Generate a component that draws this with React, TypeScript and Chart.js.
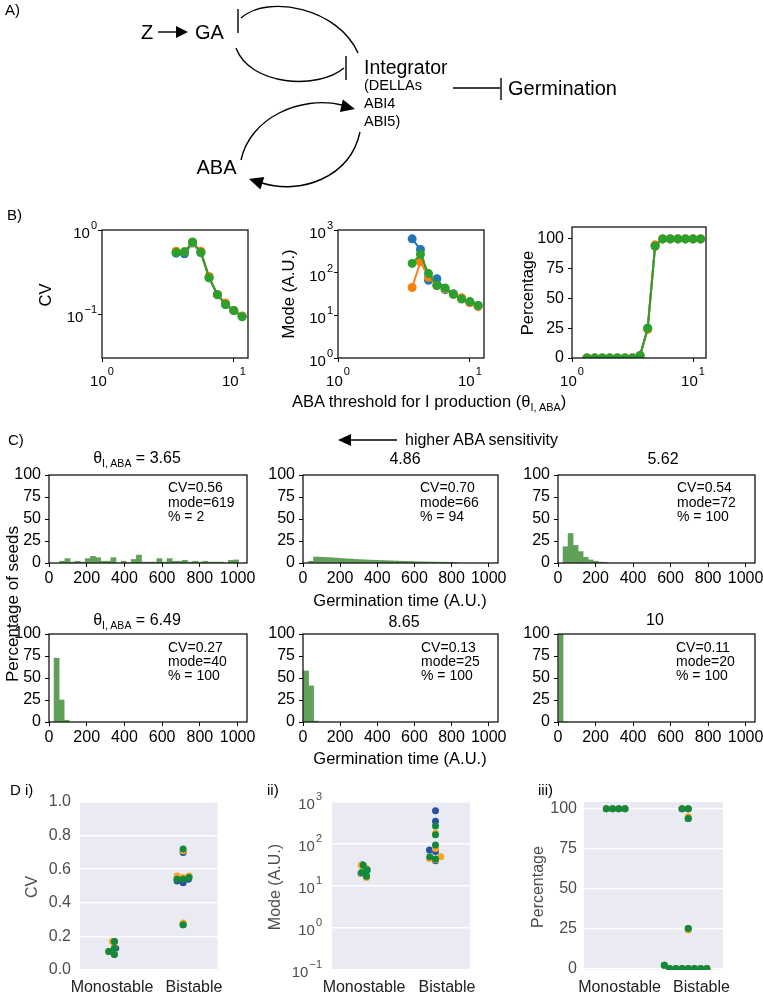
import React, { useEffect, useRef } from "react";
import { Chart, registerables } from "chart.js";

Chart.register(...registerables);

const W = 763;
const H = 993;
const FONT = "'Liberation Sans', Arial, Helvetica, sans-serif";

// ---------------- data ----------------
// Panel B: thresholds (theta_I,ABA) and statistics for the three series
const thetaCvMode = [3.65, 4.22, 4.86, 5.62, 6.49, 7.5, 8.65, 10.0, 11.55];
const cvBlue = [0.53, 0.52, 0.7, 0.54, 0.27, 0.17, 0.13, 0.11, 0.094];
const cvOrange = [0.56, 0.55, 0.71, 0.56, 0.28, 0.17, 0.135, 0.11, 0.095];
const cvGreen = [0.54, 0.55, 0.72, 0.54, 0.27, 0.17, 0.13, 0.11, 0.093];
const modeBlue = [620, 350, 66, 72, 40, 32, 25, 20, 17];
const modeOrange = [45, 180, 78, 50, 42, 31, 26, 20, 16];
const modeGreen = [165, 270, 95, 50, 44, 31, 24, 21, 17];
const thetaPct = [1.33, 1.54, 1.78, 2.05, 2.37, 2.74, 3.16, 3.65, 4.22, 4.86, 5.62, 6.49, 7.5, 8.65, 10.0, 11.55];
const pctBlue = [0, 0, 0, 0, 0, 0, 0, 2, 25, 94, 100, 100, 100, 100, 100, 100];
const pctOrange = [0, 0, 0, 0, 0, 0, 0, 2, 24, 95, 100, 100, 100, 100, 100, 100];
const pctGreen = [0, 0, 0, 0, 0, 0, 0, 2, 25, 94, 100, 100, 100, 100, 100, 100];
const bLogXTicks = [1, 10];
const cvTicks = [0.1, 1];
const modeTicks = [1, 10, 100, 1000];
const pctTicks = [0, 25, 50, 75, 100];

// Panel C: histograms (bin start, bin width, heights in % of seeds)
const histXTicks = [0, 200, 400, 600, 800, 1000];
const histYTicks = [0, 25, 50, 75, 100];
const h1Start = 57, h1Width = 27.1;
const h1 = [2, 5, 1, 2, 1, 5, 7.5, 6, 2, 2, 6, 0, 2, 0, 4, 9, 1, 1, 1, 5, 1, 5, 2, 2, 3, 1, 2, 1, 2, 1, 1, 1, 0, 3, 3.5];
const h2Start = 30, h2Width = 26.7;
const h2 = [2, 6.8, 6.6, 6.3, 6.0, 5.6, 5.2, 4.8, 4.5, 4.1, 3.8, 3.5, 3.3, 3.1, 2.9, 2.7, 2.5, 2.3, 2.1, 1.9, 1.7, 1.5, 1.4, 1.2, 1.1, 1.0, 0.9, 0.8, 0.7, 0.6];
const h3Start = 27, h3Width = 26.7;
const h3 = [18.5, 33.5, 20, 13, 6.5, 3.5, 2, 1, 0.5];
const h4Start = 27, h4Width = 26.7;
const h4 = [72.5, 25, 2];
const h5Start = 3, h5Width = 27;
const h5 = [58, 41, 1];
const h6Start = 5, h6Width = 22;
const h6 = [99.5, 0.5];
const histTitles = ["3.65", "4.86", "5.62", "6.49", "8.65", "10"];
const histCV = ["0.56", "0.70", "0.54", "0.27", "0.13", "0.11"];
const histMode = ["619", "66", "72", "40", "25", "20"];
const histPct = ["2", "94", "100", "100", "100", "100"];

// Panel D: categories (monostable = last four thresholds)
const dCategories = ["Monostable", "Bistable"];
const monoFromCv = 5;
const monoFromPct = 12;
const d1Ticks = [0, 0.2, 0.4, 0.6, 0.8, 1.0];
const d2Ticks = [0.1, 1, 10, 100, 1000];
const d3Ticks = [0, 25, 50, 75, 100];

// ---------------- colours ----------------
const BLUE = "#1f77b4";
const ORANGE = "#ff7f0e";
const GREEN = "#2ca02c";
const D_BLUE = "#2a50a6";
const D_ORANGE = "#f5a623";
const D_GREEN = "#13893b";
const HIST = "rgb(96,160,88)";
const D_BG = "#EAEAF2";
const D_TEXT = "#4d4d4d";

// ---------------- helpers ----------------
function axW(L: number) {
  return Math.min(55, L);
}
function axH(B: number) {
  return Math.min(32, H - B);
}
function pad(L: number, T: number, R: number, B: number, xShown = true) {
  return { left: L - axW(L), top: T, right: W - R, bottom: H - B - (xShown ? axH(B) : 0) };
}
function zeroPad(s: any) {
  s.paddingLeft = 0;
  s.paddingRight = 0;
  s.paddingTop = 0;
  s.paddingBottom = 0;
}
function fitW(w: number) {
  return (s: any) => {
    s.width = w;
    zeroPad(s);
  };
}
function fitH(h: number) {
  return (s: any) => {
    s.height = h;
    zeroPad(s);
  };
}
function fixTicks(vals: number[]) {
  return (s: any) => {
    s.ticks = vals.map((v) => ({ value: v }));
  };
}
function tickGrid() {
  return { display: true, drawOnChartArea: false, drawTicks: true, tickLength: 4, color: "#000", lineWidth: 1, offset: false };
}
const tickFont = { family: FONT, size: 16 };
const plain = (v: any) => String(v);

const boxPlugin = {
  id: "box",
  beforeDraw(chart: any, _a: any, o: any) {
    if (o && o.bg) {
      const a = chart.chartArea;
      const ctx = chart.ctx;
      ctx.save();
      ctx.fillStyle = o.bg;
      ctx.fillRect(a.left, a.top, a.right - a.left, a.bottom - a.top);
      ctx.restore();
    }
  },
  afterDraw(chart: any, _a: any, o: any) {
    if (o && o.stroke) {
      const a = chart.chartArea;
      const ctx = chart.ctx;
      ctx.save();
      ctx.strokeStyle = "#000";
      ctx.lineWidth = 1.2;
      ctx.strokeRect(a.left, a.top, a.right - a.left, a.bottom - a.top);
      ctx.restore();
    }
  },
};

const logLabelsPlugin = {
  id: "logLabels",
  afterDraw(chart: any, _a: any, o: any) {
    if (!o || !o.axes) return;
    const ctx = chart.ctx;
    const ca = chart.chartArea;
    ctx.save();
    ctx.fillStyle = o.color || "#000";
    ctx.textAlign = "left";
    ctx.textBaseline = "alphabetic";
    for (const ax of o.axes) {
      const sc = chart.scales[ax.id];
      for (const t of sc.ticks) {
        const e = Math.round(Math.log10(t.value));
        const sup = e < 0 ? "\u2212" + String(-e) : String(e);
        ctx.font = `${o.size}px ${FONT}`;
        const wb = ctx.measureText("10").width;
        ctx.font = `${o.supSize}px ${FONT}`;
        const ws = ctx.measureText(sup).width;
        const p = sc.getPixelForValue(t.value);
        let x0: number, yb: number, ys: number;
        if (ax.pos === "bottom") {
          x0 = p - (wb + ws + 1) / 2;
          yb = ca.bottom + ax.base;
          ys = ca.bottom + ax.sup;
        } else {
          x0 = ca.left - ax.gap - wb - ws - 1;
          yb = p + ax.base;
          ys = p + ax.sup;
        }
        ctx.font = `${o.size}px ${FONT}`;
        ctx.fillText("10", x0, yb);
        ctx.font = `${o.supSize}px ${FONT}`;
        ctx.fillText(sup, x0 + wb + 1, ys);
      }
    }
    ctx.restore();
  },
};

// seaborn-like beeswarm (per dataset, per category), pixel space
function beeswarm(ys: number[], d: number): number[] {
  const order = ys.map((_, i) => i).sort((a, b) => ys[b] - ys[a]);
  const placed: { x: number; y: number }[] = [];
  const out = new Array(ys.length).fill(0);
  for (const i of order) {
    const y = ys[i];
    const nb = placed.filter((p) => Math.abs(p.y - y) < d);
    const cands: number[] = [0];
    let leftFirst = true;
    for (const p of nb) {
      const dx = Math.sqrt(Math.max(d * d - (p.y - y) * (p.y - y), 0));
      if (leftFirst) cands.push(p.x - dx, p.x + dx);
      else cands.push(p.x + dx, p.x - dx);
      leftFirst = !leftFirst;
    }
    const idx = cands.map((_, k) => k).sort((a, b) => Math.abs(cands[a]) - Math.abs(cands[b]) || a - b);
    let chosen = 0;
    for (const k of idx) {
      const c = cands[k];
      if (nb.every((p) => (p.x - c) * (p.x - c) + (p.y - y) * (p.y - y) >= d * d - 0.01)) {
        chosen = c;
        break;
      }
    }
    out[i] = chosen;
    placed.push({ x: chosen, y });
  }
  return out;
}

const swarmPlugin = {
  id: "swarm",
  beforeDatasetsDraw(chart: any, _a: any, o: any) {
    const d = (o && o.d) || 6;
    const xs = chart.scales.x;
    chart.data.datasets.forEach((ds: any, di: number) => {
      const meta = chart.getDatasetMeta(di);
      const groups = new Map<number, any[]>();
      meta.data.forEach((el: any, i: number) => {
        const raw = ds.data[i];
        if (!groups.has(raw.x)) groups.set(raw.x, []);
        groups.get(raw.x)!.push({ el, cx: xs.getPixelForValue(raw.x), y: el.y });
      });
      groups.forEach((arr) => {
        const offs = beeswarm(arr.map((a) => a.y), d);
        arr.forEach((a, j) => {
          a.el.x = a.cx + offs[j];
        });
      });
    });
  },
};

function baseOptions(padding: any, scales: any, plugins: any) {
  return {
    responsive: false,
    maintainAspectRatio: false,
    animation: false,
    devicePixelRatio: 1,
    events: [],
    layout: { padding },
    plugins: { legend: { display: false }, tooltip: { enabled: false }, ...plugins },
    scales,
  };
}

type Series = { values: number[]; color: string };

function lineChart(L: number, T: number, R: number, B: number, xs: number[], series: Series[], yScale: any, yLog: boolean) {
  const axes: any[] = [{ id: "x", pos: "bottom", base: 28, sup: 17 }];
  if (yLog) axes.push({ id: "y", pos: "left", gap: 5, base: 8, sup: -1 });
  return {
    type: "line",
    data: {
      datasets: series.map((s) => ({
        data: xs.map((x, i) => ({ x, y: s.values[i] })),
        borderColor: s.color,
        backgroundColor: s.color,
        pointBackgroundColor: s.color,
        pointBorderColor: s.color,
        pointBorderWidth: 0,
        pointRadius: 4.5,
        borderWidth: 2,
        tension: 0,
        fill: false,
      })),
    },
    options: baseOptions(
      pad(L, T, R, B),
      {
        x: {
          type: "logarithmic",
          min: 1,
          max: 12.8,
          position: "bottom",
          afterBuildTicks: fixTicks(bLogXTicks),
          afterFit: fitH(axH(B)),
          border: { display: false },
          grid: tickGrid(),
          ticks: { display: false },
        },
        y: { ...yScale, afterFit: fitW(axW(L)) },
      },
      { box: { stroke: true }, logLabels: { axes, size: 15, supSize: 11, color: "#000" } }
    ),
    plugins: [boxPlugin, logLabelsPlugin],
  };
}

function histChart(L: number, T: number, R: number, B: number, start: number, width: number, heights: number[]) {
  return {
    type: "bar",
    data: {
      datasets: [
        {
          data: heights.map((h, i) => ({ x: start + (i + 0.5) * width, y: h })),
          backgroundColor: HIST,
          borderWidth: 0,
          barPercentage: 1,
          categoryPercentage: 1,
        },
      ],
    },
    options: baseOptions(
      pad(L, T, R, B),
      {
        x: {
          type: "linear",
          min: 0,
          max: 1050,
          offset: false,
          position: "bottom",
          afterBuildTicks: fixTicks(histXTicks),
          afterFit: fitH(axH(B)),
          border: { display: false },
          grid: tickGrid(),
          ticks: { font: tickFont, color: "#000", padding: 2, autoSkip: false, maxRotation: 0, minRotation: 0, callback: plain },
        },
        y: {
          type: "linear",
          min: 0,
          max: 100,
          position: "left",
          afterBuildTicks: fixTicks(histYTicks),
          afterFit: fitW(axW(L)),
          border: { display: false },
          grid: tickGrid(),
          ticks: { font: tickFont, color: "#000", padding: 4, autoSkip: false, callback: plain },
        },
      },
      { box: { stroke: true } }
    ),
    plugins: [boxPlugin],
  };
}

function splitSeries(values: number[], monoFrom: number) {
  const bi = values.slice(0, monoFrom);
  const mono = values.slice(monoFrom);
  return { vals: [...mono, ...bi], cats: [...mono.map(() => 0), ...bi.map(() => 1)] };
}

function swarmChart(L: number, T: number, R: number, B: number, series: Series[], monoFrom: number, yScale: any, logY: boolean) {
  const plugins: any = { box: { bg: D_BG }, swarm: { d: 6.2 } };
  if (logY) plugins.logLabels = { axes: [{ id: "y", pos: "left", gap: 10, base: 7, sup: -2 }], size: 15, supSize: 11, color: D_TEXT };
  return {
    type: "scatter",
    data: {
      datasets: series.map((s) => {
        const sp = splitSeries(s.values, monoFrom);
        return {
          data: sp.vals.map((v, i) => ({ x: sp.cats[i], y: v })),
          backgroundColor: s.color,
          borderColor: s.color,
          pointRadius: 3.5,
          pointBorderWidth: 0,
          showLine: false,
        };
      }),
    },
    options: baseOptions(
      pad(L, T, R, B, false),
      {
        x: { type: "linear", min: -0.5, max: 1.5, display: false },
        y: { ...yScale, afterFit: fitW(axW(L)) },
      },
      plugins
    ),
    plugins: logY ? [boxPlugin, swarmPlugin, logLabelsPlugin] : [boxPlugin, swarmPlugin],
  };
}

function dYAxis(type: string, min: number, max: number, ticks: number[], showLabels: boolean, padding: number, fmt?: (v: number) => string) {
  return {
    type,
    min,
    max,
    position: "left",
    afterBuildTicks: fixTicks(ticks),
    border: { display: false },
    grid: { display: true, drawOnChartArea: true, drawTicks: false, color: "#ffffff", lineWidth: 1.5 },
    ticks: showLabels
      ? { font: tickFont, color: D_TEXT, padding, autoSkip: false, callback: fmt ? (v: any) => fmt(Number(v)) : plain }
      : { display: false },
  };
}

function bLogY(min: number, max: number, ticks: number[]) {
  return {
    type: "logarithmic",
    min,
    max,
    position: "left",
    afterBuildTicks: fixTicks(ticks),
    border: { display: false },
    grid: tickGrid(),
    ticks: { display: false },
  };
}

// ---------------- chart factories ----------------
const bSeries = (b: number[], o: number[], g: number[]): Series[] => [
  { values: g, color: GREEN },
  { values: o, color: ORANGE },
  { values: b, color: BLUE },
];
const dSeries = (b: number[], o: number[], g: number[]): Series[] => [
  { values: g, color: D_GREEN },
  { values: o, color: D_ORANGE },
  { values: b, color: D_BLUE },
];

const makers: (() => any)[] = [
  () => lineChart(102, 230, 248, 358, thetaCvMode, bSeries(cvBlue, cvOrange, cvGreen), bLogY(0.03, 1, cvTicks), true),
  () => lineChart(338, 230, 484, 358, thetaCvMode, bSeries(modeBlue, modeOrange, modeGreen), bLogY(1, 1000, modeTicks), true),
  () =>
    lineChart(572, 227, 706, 358, thetaPct, bSeries(pctBlue, pctOrange, pctGreen), {
      type: "linear",
      min: 0,
      max: 110,
      position: "left",
      afterBuildTicks: fixTicks(pctTicks),
      border: { display: false },
      grid: tickGrid(),
      ticks: { font: tickFont, color: "#000", padding: 4, autoSkip: false, callback: plain },
    }, false),
  () => histChart(49, 475, 247, 563, h1Start, h1Width, h1),
  () => histChart(303, 475, 498, 563, h2Start, h2Width, h2),
  () => histChart(558, 475, 755, 563, h3Start, h3Width, h3),
  () => histChart(49, 634, 247, 722, h4Start, h4Width, h4),
  () => histChart(303, 634, 498, 722, h5Start, h5Width, h5),
  () => histChart(558, 634, 755, 722, h6Start, h6Width, h6),
  () => swarmChart(80, 802, 217.5, 970, dSeries(cvBlue, cvOrange, cvGreen), monoFromCv, dYAxis("linear", 0, 1, d1Ticks, true, 9, (v) => v.toFixed(1)), false),
  () => swarmChart(332, 802, 470, 970, dSeries(modeBlue, modeOrange, modeGreen), monoFromCv, dYAxis("logarithmic", 0.1, 1000, d2Ticks, false, 0), true),
  () => swarmChart(584, 802, 723, 970, dSeries(pctBlue, pctOrange, pctGreen), monoFromPct, dYAxis("linear", -1, 104.3, d3Ticks, true, 7), false),
];

function ChartCanvas({ make }: { make: () => any }) {
  const ref = useRef<HTMLCanvasElement>(null);
  useEffect(() => {
    const chart = new Chart(ref.current as HTMLCanvasElement, make());
    return () => chart.destroy();
  }, [make]);
  return (
    <canvas
      ref={ref}
      width={W}
      height={H}
      style={{ position: "absolute", left: 0, top: 0, width: W, height: H }}
    />
  );
}

function Label(props: { x: number; y: number; size?: number; anchor?: string; rotate?: boolean; color?: string; children: any }) {
  const { x, y, size = 16, anchor = "middle", rotate = false, color = "#000", children } = props;
  const tx = anchor === "start" ? "0" : anchor === "end" ? "-100%" : "-50%";
  return (
    <div
      style={{
        position: "absolute",
        left: x,
        top: y,
        transform: `translate(${tx},-50%)` + (rotate ? " rotate(-90deg)" : ""),
        fontFamily: FONT,
        fontSize: size,
        color,
        whiteSpace: "nowrap",
        lineHeight: 1.15,
      }}
    >
      {children}
    </div>
  );
}

const ThetaSub = () => (
  <>
    θ<span style={{ fontSize: "0.66em", position: "relative", top: "0.35em" }}>I, ABA</span>
  </>
);

function arrowHead(tipX: number, tipY: number, dx: number, dy: number, len: number, half: number) {
  const n = Math.hypot(dx, dy);
  const ux = dx / n, uy = dy / n;
  const bx = tipX - ux * len, by = tipY - uy * len;
  const px = -uy * half, py = ux * half;
  return `${tipX},${tipY} ${bx + px},${by + py} ${bx - px},${by - py}`;
}

function Diagram() {
  const big = 20;
  return (
    <svg width={W} height={H} style={{ position: "absolute", left: 0, top: 0 }}>
      <g fill="none" stroke="#000" strokeWidth={1.4}>
        <path d="M 358 53 C 338 8, 268 -6, 241 18" />
        <line x1={238} y1={9} x2={238} y2={33} />
        <path d="M 236 48 C 250 86, 318 90, 344 68" />
        <line x1={346} y1={56} x2={346} y2={80} />
        <path d="M 241 160 C 250 118, 300 95, 342 105" />
        <path d="M 360 132 C 350 178, 300 195, 262 183" />
        <line x1={158} y1={32} x2={177} y2={32} />
        <line x1={453} y1={88} x2={500} y2={88} />
        <line x1={501} y1={78} x2={501} y2={100} />
        <line x1={397} y1={440} x2={348} y2={440} />
      </g>
      <g fill="#000">
        <polygon points={arrowHead(188, 32, 1, 0, 12, 6)} />
        <polygon points={arrowHead(355, 109, 42, 10, 14, 6.5)} />
        <polygon points={arrowHead(249, 179, -38, -12, 14, 6.5)} />
        <polygon points={arrowHead(338, 440, -1, 0, 13, 6)} />
      </g>
      <g fontFamily={FONT} fill="#000" dominantBaseline="central">
        <text x={147} y={32} fontSize={big} textAnchor="middle">Z</text>
        <text x={209.5} y={32} fontSize={big} textAnchor="middle">GA</text>
        <text x={364} y={67} fontSize={19.5}>Integrator</text>
        <text x={364} y={85} fontSize={14.5}>(DELLAs</text>
        <text x={364} y={103} fontSize={14.5}>ABI4</text>
        <text x={364} y={121} fontSize={14.5}>ABI5)</text>
        <text x={508} y={88} fontSize={big}>Germination</text>
        <text x={216.5} y={167} fontSize={big} textAnchor="middle">ABA</text>
      </g>
    </svg>
  );
}

export default function App() {
  const annX1 = [168, 420, 677];
  const annX2 = [168, 421, 676];
  const annY1 = [487, 502, 516];
  const annY2 = [647, 661, 675];
  const titlePos = [
    [137, 458],
    [405, 459],
    [663, 459],
    [137, 620],
    [404, 622],
    [655, 620],
  ];
  return (
    <div style={{ position: "absolute", left: 0, top: 0, width: W, height: H, overflow: "hidden", background: "#fff" }}>
      {makers.map((m, i) => (
        <ChartCanvas key={i} make={m} />
      ))}
      <Diagram />
      {/* panel letters */}
      <Label x={5} y={10} size={15} anchor="start">A)</Label>
      <Label x={7} y={215} size={15} anchor="start">B)</Label>
      <Label x={8} y={440} size={15} anchor="start">C)</Label>
      <Label x={10} y={790} size={15} anchor="start">D i)</Label>
      <Label x={267} y={790} size={15} anchor="start">ii)</Label>
      <Label x={538} y={790} size={15} anchor="start">iii)</Label>
      {/* panel B labels */}
      <Label x={45} y={295} size={16.5} rotate>CV</Label>
      <Label x={288} y={294} size={16.5} rotate>Mode (A.U.)</Label>
      <Label x={527} y={293} size={16.5} rotate>Percentage</Label>
      <Label x={292} y={401} size={16.5} anchor="start">
        ABA threshold for I production (<ThetaSub />)
      </Label>
      {/* panel C labels */}
      <Label x={405} y={440} size={16} anchor="start">higher ABA sensitivity</Label>
      {titlePos.map((p, i) => (
        <Label key={"t" + i} x={p[0]} y={p[1]} size={16}>
          {i === 0 || i === 3 ? (
            <>
              <ThetaSub /> = {histTitles[i]}
            </>
          ) : (
            histTitles[i]
          )}
        </Label>
      ))}
      {histCV.map((cv, i) => {
        const x = i < 3 ? annX1[i] : annX2[i - 3];
        const ys = i < 3 ? annY1 : annY2;
        return (
          <React.Fragment key={"a" + i}>
            <Label x={x} y={ys[0]} size={14} anchor="start">CV={cv}</Label>
            <Label x={x} y={ys[1]} size={14} anchor="start">mode={histMode[i]}</Label>
            <Label x={x} y={ys[2]} size={14} anchor="start">% = {histPct[i]}</Label>
          </React.Fragment>
        );
      })}
      <Label x={400} y={600} size={16.5}>Germination time (A.U.)</Label>
      <Label x={400} y={758} size={16.5}>Germination time (A.U.)</Label>
      <Label x={13} y={604} size={17} rotate>Percentage of seeds</Label>
      {/* panel D labels */}
      <Label x={32} y={887} size={16} rotate color={D_TEXT}>CV</Label>
      <Label x={275} y={887} size={16} rotate color={D_TEXT}>Mode (A.U.)</Label>
      <Label x={538} y={887} size={16} rotate color={D_TEXT}>Percentage</Label>
      <Label x={112} y={987} size={16} color="#222">{dCategories[0]}</Label>
      <Label x={194} y={987} size={16} color="#222">{dCategories[1]}</Label>
      <Label x={364} y={987} size={16} color="#222">{dCategories[0]}</Label>
      <Label x={447} y={987} size={16} color="#222">{dCategories[1]}</Label>
      <Label x={619.5} y={987} size={16} color="#222">{dCategories[0]}</Label>
      <Label x={701.5} y={987} size={16} color="#222">{dCategories[1]}</Label>
    </div>
  );
}
